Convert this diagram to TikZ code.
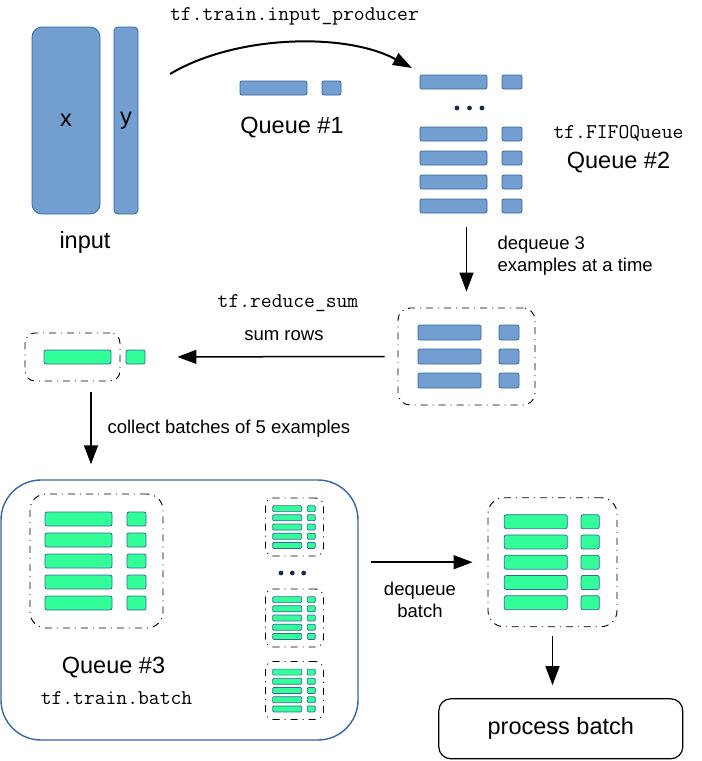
\documentclass[tikz,border=0pt]{standalone}
\usepackage{fontspec}
\setmainfont{Liberation Sans}
\usetikzlibrary{arrows.meta}

\definecolor{qblue}{HTML}{729FCF}
\definecolor{qedge}{HTML}{3465A4}
\definecolor{qgreen}{HTML}{33FF99}
\definecolor{qdot}{HTML}{1C2A48}

\tikzset{
  cellblue/.style={draw=qedge, fill=qblue, rounded corners=2pt, line width=0.8pt},
  cellgreen/.style={draw=qedge, fill=qgreen, rounded corners=2pt, line width=0.8pt},
  holder/.style={draw, rounded corners=12pt, dash pattern=on 7pt off 5pt on 1pt off 5pt,
    line width=0.9pt, inner sep=0pt},
  arr/.style={line width=1.5pt, -{Triangle[length=19pt,width=14pt]}},
  bigtext/.style={font=\fontsize{23.5}{26}\selectfont},
  smalltext/.style={font=\fontsize{18.5}{22}\selectfont},
  codetext/.style={font=\ttfamily\fontsize{21}{24}\selectfont},
}

\begin{document}
\begin{tikzpicture}[x=1pt,y=-1pt]
\useasboundingbox (0,0) rectangle (702,761);

% input tensors
\node[draw=qedge, fill=qblue, line width=0.8pt, rounded corners=10pt, minimum width=68pt,
  minimum height=187pt, bigtext] (inx) at (66,120.5) {x};
\node[draw=qedge, fill=qblue, line width=0.8pt, rounded corners=4pt, minimum width=24pt,
  minimum height=187pt, inner sep=0pt, bigtext] (iny) at (126,120.5) {y};
\node[bigtext] (inlbl) at (85,242) {input};

% queue 1
\draw[cellblue] (240,81) rectangle (307,95);
\draw[cellblue] (322,81) rectangle (341,95);
\node[bigtext] (q1lbl) at (292,128) {Queue \#1};

\coordinate (ipstart) at (170,74);
\coordinate (ipend) at (412,68);
\draw[line width=2pt, -{Triangle[length=19pt,width=13pt]}] (ipstart) .. controls (235,35) and (345,32) .. (ipend);
\node[codetext] (iplbl) at (294.5,16) {tf.train.input\_producer};

% queue 2
\node[inner sep=0pt, minimum width=103pt, minimum height=138pt] (q2) at (470.5,144) {};
\foreach \y in {82,134,158,182,206} {
    \draw[cellblue] (420,\y-7) rectangle (487,\y+7);
    \draw[cellblue] (502,\y-7) rectangle (522,\y+7);
}
\foreach \x in {457,469.5,482} {
    \fill[qdot] (\x,108) circle (2.4pt);
}
\node[codetext] (fifolbl) at (618.5,133) {tf.FIFOQueue};
\node[bigtext] (q2lbl) at (618.5,163) {Queue \#2};

% three examples
\node[holder, minimum width=137pt, minimum height=97pt] (box3) at (466.5,356.5) {};
\begin{scope}[shift={(box3.center)}]
\foreach \y in {-24,0,24} {
    \draw[cellblue] (-48.5,\y-7.5) rectangle (14.5,\y+7.5);
    \draw[cellblue] (32.5,\y-7.5) rectangle (52.5,\y+7.5);
}
\end{scope}
\draw[arr, shorten <=14pt, shorten >=16pt] (q2.south -| box3.north) -- (box3.north);
\node[smalltext, align=left, anchor=west] (dq3lbl) at (494,256) {dequeue 3\\examples at a time};

% summed row
\node[holder, rounded corners=10pt, minimum width=95pt, minimum height=48pt] (sumbox) at (72.5,357) {};
\draw[cellgreen] (44,350) rectangle (111,364);
\draw[cellgreen] (126,350) rectangle (145,364);
\draw[arr, shorten <=13pt, shorten >=57pt] (box3.west) -- (sumbox.east);
\node[codetext] (rslbl) at (288,303) {tf.reduce\_sum};
\node[smalltext] (srlbl) at (284,336) {sum rows};

% queue 3
\node[draw=qedge, line width=1.4pt, rounded corners=40pt, minimum width=357pt,
  minimum height=260pt, inner sep=0pt] (bigq) at (179.5,610) {};
\draw[arr, shorten <=11pt, shorten >=15pt] ([xshift=18.5pt]sumbox.south) coordinate (sdrop)
  -- (sdrop |- bigq.north);
\node[smalltext, anchor=west] (cblbl) at (104,429) {collect batches of 5 examples};

\node[holder, rounded corners=16pt, minimum width=133pt, minimum height=134pt] (q3main) at (96.5,561) {};
\begin{scope}[shift={(q3main.center)}]
\foreach \y in {-42,-21,0,21,42} {
    \draw[cellgreen] (-51.5,\y-7) rectangle (15.5,\y+7);
    \draw[cellgreen] (30.5,\y-7) rectangle (49.5,\y+7);
}
\end{scope}

\foreach \n/\c in {a/527,b/618,c/690.5} {
    \node[holder, rounded corners=8pt, minimum width=58pt, minimum height=58pt] (mini\n) at (294.5,\c) {};
    \begin{scope}[shift={(mini\n.center)}]
    \foreach \y in {-18.4,-9.2,0,9.2,18.4} {
        \draw[cellgreen, rounded corners=1pt, line width=0.7pt] (-21.8,\y-3) rectangle (7.2,\y+3);
        \draw[cellgreen, rounded corners=1pt, line width=0.7pt] (12.8,\y-3) rectangle (20.8,\y+3);
    }
    \end{scope}
}
\foreach \x in {281,292.3,303.7} {
    \fill[qdot] (\x,573) circle (2.4pt);
}
\node[bigtext] (q3lbl) at (113.5,668) {Queue \#3};
\node[codetext] (tblbl) at (116.5,698) {tf.train.batch};

% dequeued batch
\node[holder, rounded corners=16pt, minimum width=129pt, minimum height=129pt] (batchbox) at (552.5,562.2) {};
\begin{scope}[shift={(batchbox.center)}]
\foreach \y in {-40.5,-20.25,0,20.25,40.5} {
    \draw[cellgreen] (-48.2,\y-7) rectangle (14.8,\y+7);
    \draw[cellgreen] (28.5,\y-7) rectangle (46.8,\y+7);
}
\end{scope}
\draw[arr, shorten <=12pt, shorten >=15pt] (bigq.east |- batchbox.west) -- (batchbox.west);
\node[smalltext, align=center] (dblbl) at (420,600) {dequeue\\batch};

% processing
\node[draw, line width=1.2pt, rounded corners=12pt, minimum width=244pt, minimum height=60pt,
  bigtext] (proc) at (560.8,728.8) {process batch};
\draw[arr, shorten <=9pt, shorten >=13pt] (batchbox.south) -- (batchbox.south |- proc.north);
\end{tikzpicture}
\end{document}
